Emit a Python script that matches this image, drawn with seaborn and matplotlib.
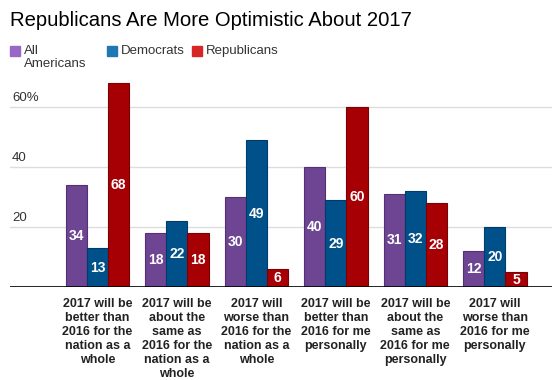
import matplotlib
matplotlib.use("Agg")
import matplotlib.pyplot as plt
import seaborn as sns
import pandas as pd

categories = [
    "2017 will be\nbetter than\n2016 for the\nnation as a\nwhole",
    "2017 will be\nabout the\nsame as\n2016 for the\nnation as a\nwhole",
    "2017 will\nworse than\n2016 for the\nnation as a\nwhole",
    "2017 will be\nbetter than\n2016 for me\npersonally",
    "2017 will be\nabout the\nsame as\n2016 for me\npersonally",
    "2017 will\nworse than\n2016 for me\npersonally",
]
groups = ["All Americans", "Democrats", "Republicans"]
all_americans = [34, 18, 30, 40, 31, 12]
democrats = [13, 22, 49, 29, 32, 20]
republicans = [68, 18, 6, 60, 28, 5]

bar_colors = ["#6e4592", "#00518a", "#a60005"]
edge_colors = ["#553075", "#003c69", "#7d0004"]
legend_colors = ["#9b67c7", "#1f77b4", "#d62728"]

df = pd.DataFrame({
    "category": categories * 3,
    "group": [g for g in groups for _ in categories],
    "value": all_americans + democrats + republicans,
})

sns.set_style("white")
plt.rcParams["font.family"] = ["Liberation Sans", "DejaVu Sans"]

fig = plt.figure(figsize=(5.52, 3.8), dpi=100)
ax = fig.add_axes([10 / 552, 93 / 380, 542 / 552, 210 / 380])

sns.barplot(data=df, x="category", y="value", hue="group", order=categories,
            hue_order=groups, palette=bar_colors, saturation=1, width=0.8,
            gap=0, legend=False, ax=ax)

for cont, ec in zip(ax.containers, edge_colors):
    for bar in cont:
        bar.set_edgecolor(ec)
        bar.set_linewidth(0.8)
    ax.bar_label(cont, label_type="center", color="white",
                 fontweight="bold", fontsize=10)

ax.set_xlim(-1.10, 5.72)
ax.set_ylim(0, 70)
ax.set_xlabel("")
ax.set_ylabel("")
ax.set_yticks([])
for v in [20, 40, 60]:
    ax.axhline(v, color="#dddddd", lw=1, zorder=0)
    ax.text(0.004, v + 1.0, "60%" if v == 60 else str(v),
            transform=ax.get_yaxis_transform(),
            fontsize=9.5, color="#333333", va="bottom", ha="left")
ax.axhline(0, color="black", lw=1.2, zorder=5)
for s in ax.spines.values():
    s.set_visible(False)

ax.set_xticks(range(len(categories)))
ax.set_xticklabels(categories, fontsize=9, fontweight="bold", color="#222222",
                   linespacing=1.22, va="top")
ax.tick_params(axis="x", length=0, pad=8)

fig.text(10 / 552, 1 - 21 / 380, "Republicans Are More Optimistic About 2017",
         fontsize=14.6, color="black", va="center", ha="left")

legend_labels = ["All\nAmericans", "Democrats", "Republicans"]
xs = [10, 107, 192]
for x, c, lab in zip(xs, legend_colors, legend_labels):
    fig.patches.append(plt.Rectangle((x / 552, 1 - 56 / 380), 10 / 552, 10 / 380,
                                     transform=fig.transFigure, color=c))
    fig.text((x + 14) / 552, 1 - 45 / 380, lab, fontsize=9.5, color="#333333",
             va="top", ha="left", linespacing=1.1)

fig.savefig("out.png", dpi=100)
